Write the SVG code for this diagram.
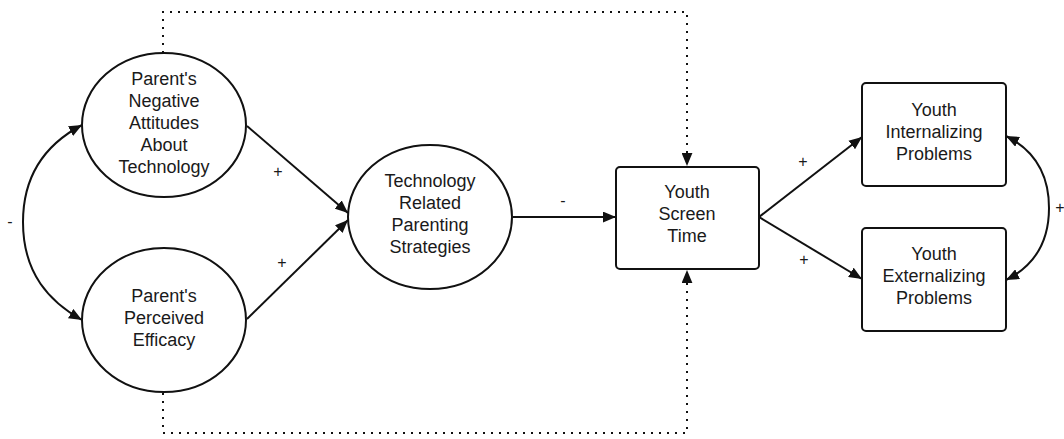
<svg xmlns="http://www.w3.org/2000/svg" width="1064" height="439" viewBox="0 0 1064 439">
<style>
.shape{fill:#fff;stroke:#111;stroke-width:2}
.lbl{font-family:"Liberation Sans",Arial,sans-serif;font-size:18px;fill:#1a1a1a;text-anchor:middle}
.sign{font-family:"Liberation Sans",Arial,sans-serif;font-size:16px;fill:#1a1a1a;text-anchor:middle}
.edge{fill:none;stroke:#111;stroke-width:2}
.dot{fill:none;stroke:#111;stroke-width:2;stroke-dasharray:2 6}
</style>
<defs>
<marker id="ah" viewBox="0 0 12 10" refX="12" refY="5" markerWidth="13" markerHeight="11" markerUnits="userSpaceOnUse" orient="auto-start-reverse">
<path d="M0,0 L12,5 L0,10 z" fill="#111"/>
</marker>
</defs>
<rect width="1064" height="439" fill="#fff"/>
<g id="connectors">
<path class="dot" d="M163,53 L163,12 L687,12 L687,166" marker-end="url(#ah)"/>
<path class="dot" d="M163,393 L163,433 L687,433 L687,270" marker-end="url(#ah)"/>
<path class="edge" d="M82,125 C50,142 23,170 23,222 C23,274 50,302 82,320" marker-start="url(#ah)" marker-end="url(#ah)"/>
<path class="edge" d="M1006,136 C1030,148 1049,170 1049,208 C1049,246 1030,268 1006,280" marker-start="url(#ah)" marker-end="url(#ah)"/>
<path class="edge" d="M247,126 L348,213" marker-end="url(#ah)"/>
<path class="edge" d="M247,319 L348,220" marker-end="url(#ah)"/>
<path class="edge" d="M513,217 L616,217" marker-end="url(#ah)"/>
<path class="edge" d="M759,217 L862,137" marker-end="url(#ah)"/>
<path class="edge" d="M759,217 L862,279" marker-end="url(#ah)"/>
<text class="sign" x="10" y="227">-</text>
<text class="sign" x="278" y="177">+</text>
<text class="sign" x="282" y="268">+</text>
<text class="sign" x="563" y="206">-</text>
<text class="sign" x="803" y="167">+</text>
<text class="sign" x="804" y="265">+</text>
<text class="sign" x="1060" y="213">+</text>
</g>
<g id="n-attitudes">
<ellipse class="shape" cx="164" cy="125" rx="82" ry="72"/>
<text class="lbl" x="164" y="85">Parent's</text>
<text class="lbl" x="164" y="107">Negative</text>
<text class="lbl" x="164" y="129">Attitudes</text>
<text class="lbl" x="164" y="151">About</text>
<text class="lbl" x="164" y="173">Technology</text>
</g>
<g id="n-efficacy">
<ellipse class="shape" cx="164" cy="320" rx="82" ry="72"/>
<text class="lbl" x="164" y="302">Parent's</text>
<text class="lbl" x="164" y="324">Perceived</text>
<text class="lbl" x="164" y="346">Efficacy</text>
</g>
<g id="n-strategies">
<ellipse class="shape" cx="430" cy="217" rx="82" ry="72"/>
<text class="lbl" x="430" y="187">Technology</text>
<text class="lbl" x="430" y="209">Related</text>
<text class="lbl" x="430" y="231">Parenting</text>
<text class="lbl" x="430" y="253">Strategies</text>
</g>
<g id="n-screentime">
<rect class="shape" x="616" y="167" width="143" height="102" rx="4"/>
<text class="lbl" x="687" y="198">Youth</text>
<text class="lbl" x="687" y="220">Screen</text>
<text class="lbl" x="687" y="242">Time</text>
</g>
<g id="n-internalizing">
<rect class="shape" x="862" y="83" width="144" height="103" rx="4"/>
<text class="lbl" x="934" y="116">Youth</text>
<text class="lbl" x="934" y="138">Internalizing</text>
<text class="lbl" x="934" y="160">Problems</text>
</g>
<g id="n-externalizing">
<rect class="shape" x="862" y="228" width="144" height="103" rx="4"/>
<text class="lbl" x="934" y="260">Youth</text>
<text class="lbl" x="934" y="282">Externalizing</text>
<text class="lbl" x="934" y="304">Problems</text>
</g>
</svg>
